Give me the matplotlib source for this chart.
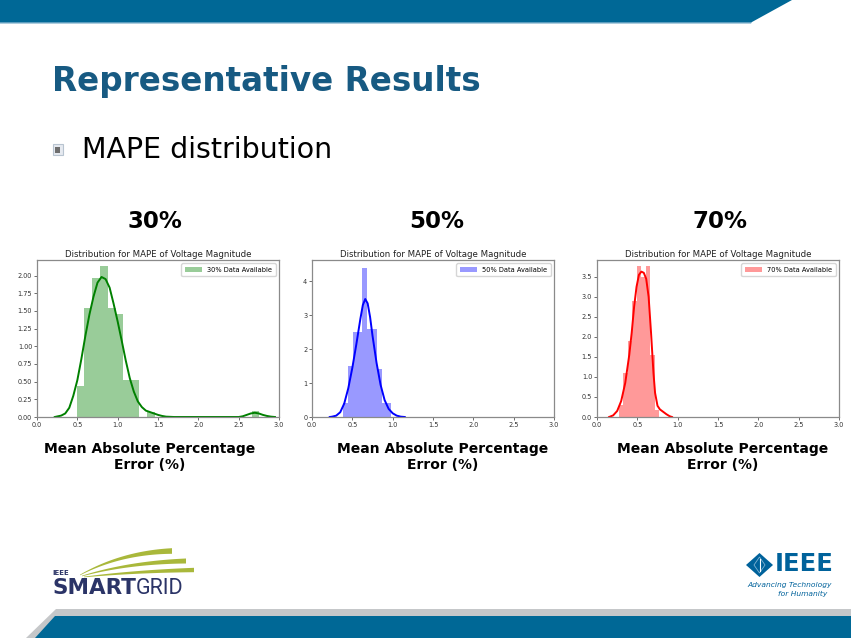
import matplotlib.pyplot as plt
from matplotlib.patches import Polygon, Rectangle
import numpy as np

W, H = 851, 638
BAR_BLUE, TITLE_BLUE, NAVY, GRN, IEEE_BLUE = "#006896", "#175A82", "#2B3467", "#A9B83B", "#00629B"
plt.rcParams.update({"font.family": "DejaVu Sans"})

labels = ["30%", "50%", "70%"]
colors = ["g", "b", "r"]

p30_left = [0.490, 0.587, 0.684, 0.781, 0.878, 0.975, 1.072, 1.169, 1.363, 2.660]
p30_height = [0.44, 1.54, 1.97, 2.13, 1.54, 1.46, 0.53, 0.53, 0.07, 0.09]
p30_width = 0.097
p30_kde_x = [0.22, 0.30, 0.35, 0.40, 0.45, 0.50, 0.55, 0.60, 0.65, 0.70, 0.75, 0.80,
             0.85, 0.90, 0.95, 1.00, 1.05, 1.10, 1.15, 1.20, 1.25, 1.30, 1.35, 1.40,
             1.45, 1.50, 1.55, 1.60, 1.70, 2.50, 2.55, 2.60, 2.65, 2.70, 2.75, 2.80,
             2.85, 2.90, 2.95]
p30_kde_y = [0.00, 0.02, 0.05, 0.13, 0.30, 0.52, 0.82, 1.15, 1.45, 1.70, 1.90, 1.98,
             1.95, 1.83, 1.60, 1.35, 1.08, 0.80, 0.55, 0.36, 0.22, 0.14, 0.09, 0.07,
             0.05, 0.03, 0.015, 0.005, 0.0, 0.0, 0.01, 0.03, 0.05, 0.06, 0.05, 0.03,
             0.015, 0.005, 0.0]

p50_left = [0.382, 0.442, 0.503, 0.563, 0.623, 0.684, 0.744, 0.804, 0.864, 0.925]
p50_height = [0.41, 1.49, 2.50, 2.50, 4.40, 2.60, 2.60, 1.42, 0.41, 0.41]
p50_width = 0.0603
p50_kde_x = [0.22, 0.25, 0.30, 0.35, 0.40, 0.45, 0.50, 0.55, 0.60, 0.63, 0.66, 0.69,
             0.72, 0.75, 0.80, 0.85, 0.90, 0.95, 1.00, 1.05, 1.10, 1.15]
p50_kde_y = [0.00, 0.01, 0.04, 0.14, 0.40, 0.85, 1.45, 2.15, 2.90, 3.30, 3.48, 3.35,
             2.95, 2.40, 1.60, 0.95, 0.50, 0.24, 0.11, 0.04, 0.01, 0.00]

p70_left = [0.271, 0.327, 0.382, 0.438, 0.493, 0.549, 0.604, 0.660, 0.715]
p70_height = [0.30, 1.10, 1.90, 2.90, 3.78, 3.50, 3.78, 1.55, 0.17]
p70_width = 0.0555
p70_kde_x = [0.15, 0.20, 0.25, 0.30, 0.35, 0.40, 0.43, 0.46, 0.49, 0.52, 0.55, 0.58,
             0.61, 0.64, 0.67, 0.70, 0.72, 0.75, 0.78, 0.82, 0.86, 0.90, 0.93]
p70_kde_y = [0.00, 0.04, 0.15, 0.40, 0.85, 1.55, 2.10, 2.75, 3.25, 3.55, 3.63, 3.60,
             3.45, 3.00, 2.10, 1.10, 0.60, 0.28, 0.19, 0.13, 0.07, 0.02, 0.00]

panels = [
    (p30_left, p30_height, p30_width, p30_kde_x, p30_kde_y),
    (p50_left, p50_height, p50_width, p50_kde_x, p50_kde_y),
    (p70_left, p70_height, p70_width, p70_kde_x, p70_kde_y),
]
ylims = [2.22, 4.63, 3.92]
yticks = [np.arange(0, 2.01, 0.25), np.arange(0, 4.1, 1), np.arange(0, 3.6, 0.5)]
yfmt = ["{:.2f}", "{:.0f}", "{:.1f}"]
ax_left = [37, 312, 597]       # pixel positions of the plot boxes
ax_w = 242
head_x = [155, 437, 720]       # centres of the "30%" headings
xlab_x = [150, 443, 723]       # centres of the bold axis captions


def fx(x): return x / W
def fy(y): return 1 - y / H


fig = plt.figure(figsize=(W / 100, H / 100), dpi=100)

# slide background layer in pixel coords
bg = fig.add_axes([0, 0, 1, 1], zorder=0)
bg.set_xlim(0, W); bg.set_ylim(H, 0); bg.axis("off")
bg.add_patch(Polygon([(0, 0), (792, 0), (752, 22), (0, 22)], color=BAR_BLUE, lw=0))
bg.add_patch(Polygon([(0, 22), (752, 22), (751, 23.5), (0, 23.5)], color="#5C9DBE", lw=0))
bg.add_patch(Polygon([(56, 609), (W, 609), (W, H), (26, H)], color="#C5C7C9", lw=0))
bg.add_patch(Polygon([(55, 616), (W, 616), (W, H), (35, H)], color=BAR_BLUE, lw=0))
# bullet
bg.add_patch(Rectangle((52.5, 144), 10, 11, facecolor="#E6EAF0", edgecolor="#B8C4D0", lw=0.8))
bg.add_patch(Rectangle((55, 146.5), 5, 6, facecolor="#6E6E6E", lw=0))

# smart grid swooshes (decoration)
t = np.linspace(0, 1, 50)[:, None]
for (x0, y0), (x2, y2), th in [((80, 575), (172, 551), 5.0),
                               ((82, 576), (186, 561), 4.4),
                               ((84, 577), (194, 570), 3.8)]:
    p0, p2 = np.array([x0, y0]), np.array([x2, y2])
    p1 = np.array([x0 + 0.45 * (x2 - x0), y2 + 1.5])
    c = (1 - t) ** 2 * p0 + 2 * (1 - t) * t * p1 + t ** 2 * p2
    w = 0.6 + th * t[:, 0] ** 0.9
    upper = c.copy(); upper[:, 1] -= w / 2
    lower = c.copy(); lower[:, 1] += w / 2
    bg.add_patch(Polygon(np.r_[upper, lower[::-1]], color=GRN, lw=0))

# IEEE diamond
bg.add_patch(Polygon([(759.5, 553), (773, 565), (759.5, 577), (746, 565)], color=IEEE_BLUE, lw=0))
bg.add_patch(Polygon([(759.5, 557), (765, 565), (759.5, 573), (754, 565)], facecolor="none",
                     edgecolor="#7FB3D3", lw=0.6))
bg.plot([759.5, 759.5], [559, 571], color="white", lw=0.8)

fig.text(fx(52), fy(82), "Representative Results", fontsize=23.5, fontweight="bold",
         color=TITLE_BLUE, va="center", ha="left")
fig.text(fx(82), fy(150), "MAPE distribution", fontsize=20.5, color="black",
         va="center", ha="left")

fig.text(fx(52.5), fy(573), "IEEE", fontsize=5, fontweight="bold", color=NAVY, va="center")
sm = fig.text(fx(52), fy(594.5), "SMART", fontsize=15.5, fontweight="bold", color=NAVY,
              va="baseline")
bg.annotate("GRID", xy=(1, 0), xycoords=sm, fontsize=15.5, color=NAVY, va="bottom",
            ha="left", family="Roboto", fontweight="normal", annotation_clip=False)
fig.text(fx(775), fy(564), "IEEE", fontsize=17.5, fontweight="bold", color=IEEE_BLUE,
         va="center", ha="left")
fig.text(fx(832), fy(584.5), "Advancing Technology", fontsize=5.4, style="italic",
         color=IEEE_BLUE, va="center", ha="right")
fig.text(fx(827), fy(594), "for Humanity", fontsize=5.4, style="italic",
         color=IEEE_BLUE, va="center", ha="right")

for i, (lefts, heights, width, kx, ky) in enumerate(panels):
    ax = fig.add_axes([fx(ax_left[i]), fy(417), ax_w / W, (417 - 260) / H], zorder=2)
    ax.bar(lefts, heights, width=width, align="edge", color=colors[i], alpha=0.4,
           lw=0, label=f"{labels[i]} Data Available")
    ax.plot(kx, ky, color=colors[i], lw=1.4)
    ax.set_xlim(0, 3.0)
    ax.set_ylim(0, ylims[i])
    ax.set_xticks(np.arange(0, 3.01, 0.5))
    ax.set_xticklabels([f"{v:.1f}" for v in np.arange(0, 3.01, 0.5)])
    ax.set_yticks(yticks[i])
    ax.set_yticklabels([yfmt[i].format(v) for v in yticks[i]])
    ax.tick_params(labelsize=4.7, length=2, width=0.5, pad=1.5, colors="#333333")
    for s in ax.spines.values():
        s.set_color("#8a8a8a"); s.set_linewidth(0.9)
    ax.set_title("Distribution for MAPE of Voltage Magnitude", fontsize=6.2, pad=2.5,
                 color="#222222")
    ax.legend(loc="upper right", fontsize=4.8, handlelength=2.6, borderpad=0.5,
              framealpha=0.8, edgecolor="#cccccc", fancybox=True)
    fig.text(fx(head_x[i]), fy(222), labels[i], fontsize=16.5, fontweight="bold",
             ha="center", va="center")
    fig.text(fx(xlab_x[i]), fy(457), "Mean Absolute Percentage\nError (%)", fontsize=10,
             fontweight="bold", ha="center", va="center", linespacing=1.1)

fig.savefig("out.png", dpi=100)
